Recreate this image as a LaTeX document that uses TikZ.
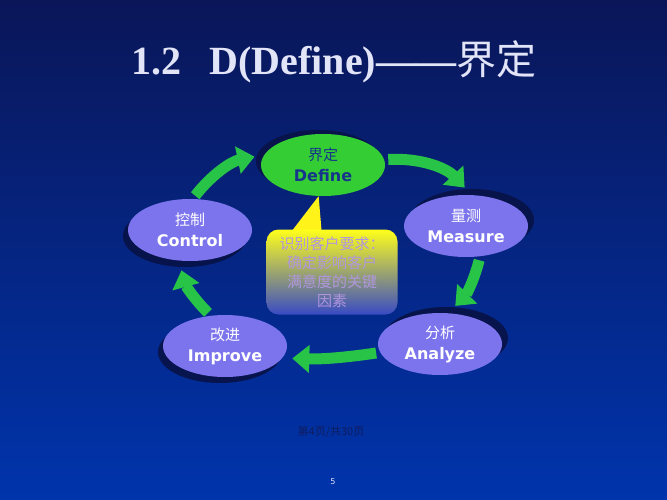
\documentclass[tikz,border=0pt]{standalone}
\usepackage{fontspec}
\setmainfont{Liberation Serif}
\newfontfamily\cjk{Noto Sans CJK SC}
\newfontfamily\vsans{DejaVu Sans}
\usetikzlibrary{shapes.geometric,shadows,arrows.meta}

\definecolor{bgtop}{RGB}{10,22,88}
\definecolor{bgbot}{RGB}{0,52,172}
\definecolor{stagefill}{RGB}{124,116,236}
\definecolor{definefill}{RGB}{52,206,52}
\definecolor{definetext}{RGB}{22,52,140}
\definecolor{shade}{RGB}{8,18,70}
\definecolor{cyclegreen}{RGB}{40,196,72}
\definecolor{notetext}{RGB}{176,150,222}
\definecolor{titletext}{RGB}{226,228,248}
\definecolor{pagetext}{RGB}{16,28,96}

\tikzset{
  stage/.style={ellipse, minimum width=124pt, minimum height=62pt, inner sep=0pt,
    fill=stagefill, text=white, align=center, font=\fontsize{16}{21}\selectfont},
  ur/.style={drop shadow={shadow xshift=6pt, shadow yshift=6pt, fill=shade, opacity=.9}},
  dl/.style={drop shadow={shadow xshift=-5pt, shadow yshift=-6pt, fill=shade, opacity=.9}},
  ul/.style={drop shadow={shadow xshift=-5pt, shadow yshift=4pt, fill=shade, opacity=.9}},
  cycle arrow/.style={cyclegreen, line width=11pt, shorten <=4pt, shorten >=10pt,
    -{Triangle[length=17pt, width=27pt]}},
}
\newcommand{\stagetext}[2]{{\cjk\fontsize{15}{21}\selectfont #1}\\{\vsans\bfseries #2}}

\begin{document}
\begin{tikzpicture}[x=1pt, y=-1pt]
  \useasboundingbox (0,0) rectangle (667,500);
  \shade[top color=bgtop, bottom color=bgbot] (0,0) rectangle (667,500);

  % title
  \node[text=titletext] (title) at (334,62) {\bfseries\fontsize{40}{44}\selectfont 1.2\hspace{28pt}D(Define)——{\cjk\mdseries 界定}};

  % the five stages
  \node[stage, ul, fill=definefill, text=definetext] (define) at (323,165) {\stagetext{界定}{Define}};
  \node[stage, ur] (measure) at (466,226) {\stagetext{量测}{Measure}};
  \node[stage, ur] (analyze) at (440,344) {\stagetext{分析}{Analyze}};
  \node[stage, dl] (improve) at (225,346) {\stagetext{改进}{Improve}};
  \node[stage, dl] (control) at (190,230) {\stagetext{控制}{Control}};

  % arrows between stages
  \draw[cycle arrow] (define.5) to[bend left=25] (measure.80);
  \draw[cycle arrow] (measure.-65) to[bend left=15] (analyze.75);
  \draw[cycle arrow] (analyze.188) to[bend left=5] (improve.-12);
  \draw[cycle arrow] (improve.115) to[bend left=15] (control.250);
  \draw[cycle arrow] (control.85) to[bend left=20] (define.170);

  % callout
  \fill[yellow!90!white] (288,236) -- (define.262) -- (322,236) -- cycle;
  \node[rounded corners=12pt, minimum width=131pt, minimum height=85pt, align=center,
    top color=yellow!90!white, bottom color={rgb,255:red,56;green,74;blue,196},
    text=notetext, font=\cjk\fontsize{15}{19}\selectfont] (note) at (332,272)
    {识别客户要求：\\确定影响客户\\满意度的关键\\因素};

  % footer
  \node[text=pagetext, font=\cjk\fontsize{11}{13}\selectfont] (page) at (331,432) {第4页/共30页};
  \node[text=titletext, font=\vsans\fontsize{8}{10}\selectfont] (num) at (333,482) {5};
\end{tikzpicture}
\end{document}
